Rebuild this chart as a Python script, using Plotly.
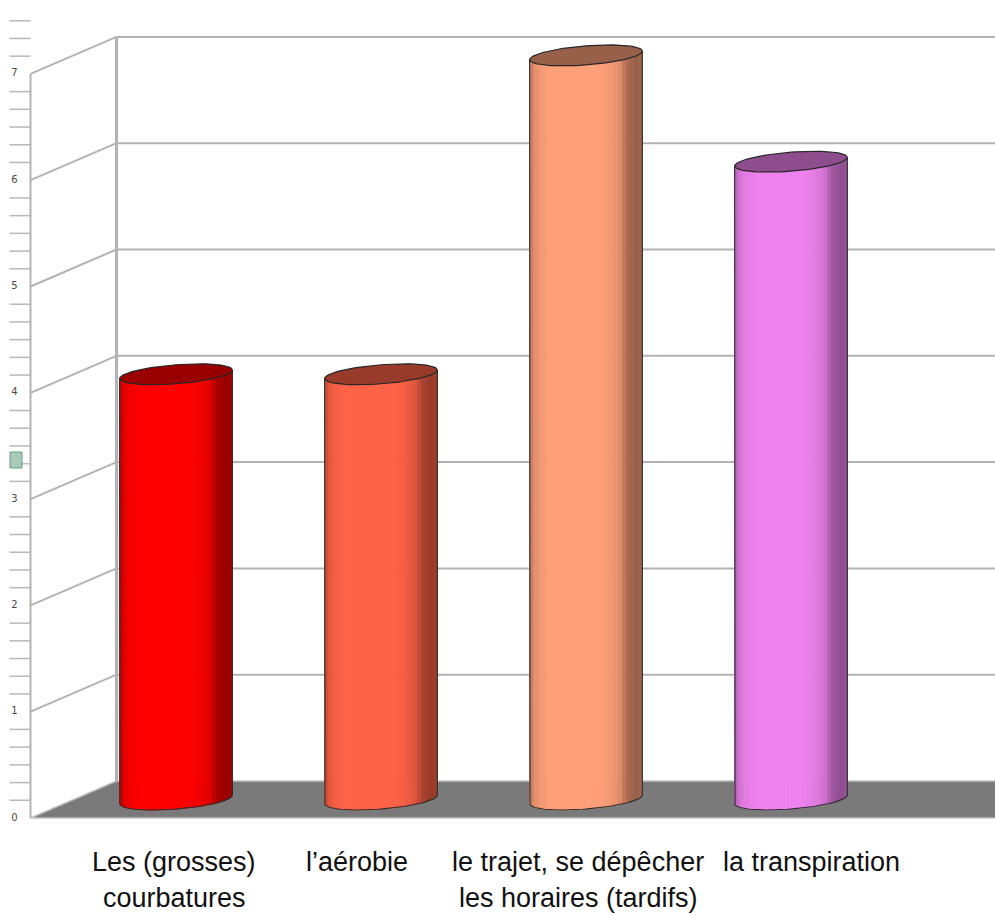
import numpy as np
import plotly.graph_objects as go

# ---- data -------------------------------------------------------------
label_line1 = ["Les (grosses)", "l’aérobie", "le trajet, se dépêcher", "la transpiration"]
label_line2 = ["courbatures", "", "les horaires (tardifs)", ""]
values = [4, 4, 7, 6]
bar_colors = ["#FF0000", "#FF6347", "#FFA07A", "#EE82EE"]
y_tick_values = [0, 1, 2, 3, 4, 5, 6, 7]
y_tick_labels = ["0", "1", "2", "3", "4", "5", "6", "7"]

# ---- geometry (pixel scale of the pseudo-3D box) ----------------------
W, H = 995, 915
PX_X = 205.0          # pixels per category step
PX_Y = 106.3          # pixels per value unit
X0_PX = 176.0         # pixel x of the first category (mid depth)
Y0_PX = 799.5         # pixel y of value 0 (mid depth)
DX = 86.0 / PX_X      # depth offset, x units
DY = 37.0 / PX_Y      # depth offset, value units
WALL_X = -0.5
FRONT_X = WALL_X - DX / 2
BACK_X = WALL_X + DX / 2
X_MIN = (0 - X0_PX) / PX_X
X_MAX = (W - X0_PX) / PX_X
Y_MIN = (Y0_PX - H) / PX_Y
Y_MAX = Y0_PX / PX_Y
X_RIGHT = X_MAX + 0.2

CYL_A = 56.5          # half width of a cylinder, px
CYL_B = 9.5           # half depth of a cylinder ellipse, px
CYL_TILT = np.deg2rad(-4.5)
N_STRIPS = 28

GRID = "#b3b3b3"
fig = go.Figure()


def seg_trace(segments, color, width):
    xs, ys = [], []
    for (x1, y1), (x2, y2) in segments:
        xs += [x1, x2, None]
        ys += [y1, y2, None]
    return go.Scatter(x=xs, y=ys, mode="lines", hoverinfo="skip",
                      line=dict(color=color, width=width))


# floor
fig.add_trace(go.Scatter(
    x=[FRONT_X, BACK_X, X_RIGHT, X_RIGHT, FRONT_X],
    y=[-DY / 2, DY / 2, DY / 2, -DY / 2, -DY / 2],
    mode="lines", fill="toself", fillcolor="#7a7a7a",
    line=dict(color="#c2c2c2", width=1.5), hoverinfo="skip"))

# back wall gridlines
fig.add_trace(seg_trace([((BACK_X, v + DY / 2), (X_RIGHT, v + DY / 2))
                         for v in y_tick_values[1:]], GRID, 2))
fig.add_trace(seg_trace([((BACK_X, DY / 2), (BACK_X, y_tick_values[-1] + DY / 2))],
                        GRID, 3))
# left wall: oblique lines and front axis
fig.add_trace(seg_trace([((FRONT_X, v - DY / 2), (BACK_X, v + DY / 2))
                         for v in y_tick_values[1:]], GRID, 2))
fig.add_trace(seg_trace([((FRONT_X, -DY / 2), (FRONT_X, y_tick_values[-1] - DY / 2))],
                        GRID, 2))

# minor ticks on the front axis
tick_len = 21.0 / PX_X
minor = [k / 6 for k in range(1, 46) if k % 6 != 0]
fig.add_trace(seg_trace([((FRONT_X - tick_len, m - DY / 2), (FRONT_X, m - DY / 2))
                         for m in minor], "#b8b8b8", 1.5))

# tick labels
fig.add_trace(go.Scatter(
    x=[FRONT_X - 16.0 / PX_X] * len(y_tick_values),
    y=[v - DY / 2 for v in y_tick_values],
    mode="text", text=y_tick_labels, textposition="middle center",
    textfont=dict(family="DejaVu Sans", size=10, color="#4a4a4a"),
    hoverinfo="skip"))

# small legend key
kx0, kx1 = (10 - X0_PX) / PX_X, (22 - X0_PX) / PX_X
ky0, ky1 = (Y0_PX - 468) / PX_Y, (Y0_PX - 452) / PX_Y
fig.add_trace(go.Scatter(
    x=[kx0, kx1, kx1, kx0, kx0], y=[ky0, ky0, ky1, ky1, ky0],
    mode="lines", fill="toself", fillcolor="#a8cab8",
    line=dict(color="#6f9c85", width=1), hoverinfo="skip"))


def hex_rgb(h):
    h = h.lstrip("#")
    return np.array([int(h[i:i + 2], 16) for i in (0, 2, 4)], dtype=float)


def shade(rgb, f):
    c = np.clip(rgb * f, 0, 255).astype(int)
    return "rgb(%d,%d,%d)" % tuple(c)


def ell(t):
    """Offset (data units) of a point on the tilted cylinder ellipse."""
    xo = CYL_A * np.cos(t) * np.cos(CYL_TILT) - CYL_B * np.sin(t) * np.sin(CYL_TILT)
    yo = CYL_A * np.cos(t) * np.sin(CYL_TILT) + CYL_B * np.sin(t) * np.cos(CYL_TILT)
    return xo / PX_X, -yo / PX_Y


# shading profile across the cylinder, left -> right
prof_u = [0.0, 0.03, 0.08, 0.18, 0.62, 0.72, 0.80, 0.86, 0.95, 1.0]
prof_f = [0.74, 0.86, 0.95, 1.0, 1.0, 0.95, 0.88, 0.68, 0.6, 0.64]

for i, (v, col) in enumerate(zip(values, bar_colors)):
    rgb = hex_rgb(col)
    # strip boundaries evenly spaced across the screen width
    us = np.linspace(0, 1, N_STRIPS + 1)
    ts = np.pi - np.arccos(1 - 2 * us)
    for k in range(N_STRIPS):
        t1, t2 = ts[k], ts[k + 1]
        ex1, ey1 = ell(t1)
        ex2, ey2 = ell(t2)
        u = 0.5 * (us[k] + us[k + 1])
        c = shade(rgb, np.interp(u, prof_u, prof_f))
        fig.add_trace(go.Scatter(
            x=[i + ex1, i + ex2, i + ex2, i + ex1, i + ex1],
            y=[v + ey1, v + ey2, 0 + ey2, 0 + ey1, v + ey1],
            mode="lines", fill="toself", fillcolor=c,
            line=dict(color=c, width=1), hoverinfo="skip"))
    # outline of the body
    tb = np.linspace(np.pi, 0, 60)
    bx, by = ell(tb)
    lx, ly = ell(np.pi)
    rx, ry = ell(0.0)
    xs = [i + lx] + list(i + bx) + [i + rx]
    ys = [v + ly] + list(0 + by) + [v + ry]
    fig.add_trace(go.Scatter(x=xs, y=ys, mode="lines", hoverinfo="skip",
                             line=dict(color="#2e2e2e", width=1.1)))
    # top cap
    tt = np.linspace(0, 2 * np.pi, 90)
    tx, ty = ell(tt)
    fig.add_trace(go.Scatter(
        x=list(i + tx), y=list(v + ty), mode="lines", fill="toself",
        fillcolor=shade(rgb, 0.6), line=dict(color="#262626", width=1.2),
        hoverinfo="skip"))

# category labels
label_shift = [-2, -24, -8, 20]
FONT = dict(family="Liberation Sans, Arial", size=27, color="#111111")
for i, (l1, l2) in enumerate(zip(label_line1, label_line2)):
    for txt, py in ((l1, 862), (l2, 898)):
        if txt:
            fig.add_annotation(x=i, xref="x", xshift=label_shift[i],
                               y=1 - py / H, yref="paper", yanchor="middle",
                               text=txt, showarrow=False, font=FONT)

fig.update_layout(
    width=W, height=H, margin=dict(l=0, r=0, t=0, b=0),
    paper_bgcolor="white", plot_bgcolor="white", showlegend=False,
    xaxis=dict(range=[X_MIN, X_MAX], visible=False, fixedrange=True),
    yaxis=dict(range=[Y_MIN, Y_MAX], visible=False, fixedrange=True),
)

fig.write_html("out.html")
